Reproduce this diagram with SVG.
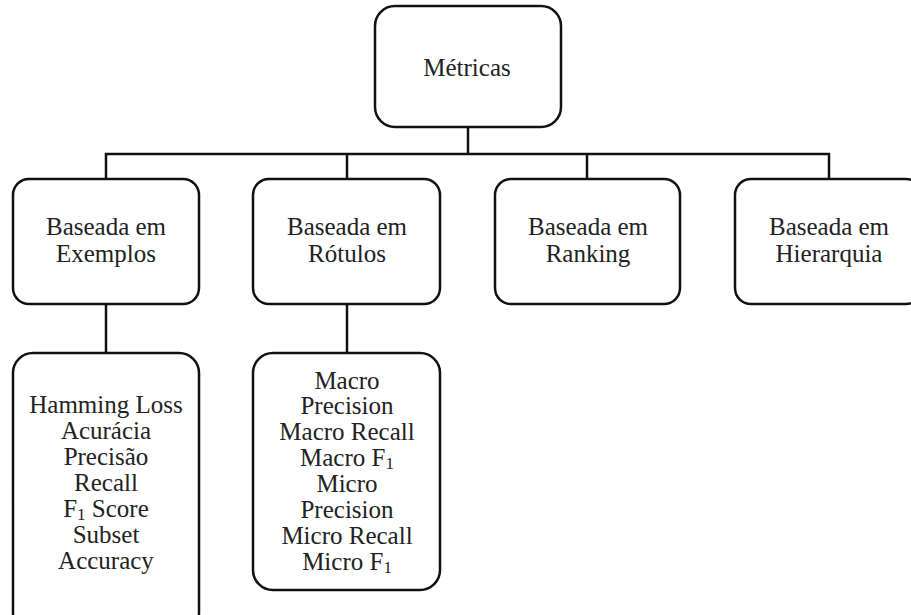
<svg xmlns="http://www.w3.org/2000/svg" width="911" height="615" viewBox="0 0 911 615">
  <rect width="911" height="615" fill="#ffffff"/>

  <!-- tree connectors -->
  <g id="connectors" fill="none" stroke="#111111" stroke-width="2.5">
    <path d="M468 127 V154"/>
    <path d="M106 179 V154 H829 V179"/>
    <path d="M347 154 V179"/>
    <path d="M587 154 V179"/>
    <path d="M106 304 V353"/>
    <path d="M347 304 V353"/>
  </g>

  <!-- node boxes share stroke; labels share a serif face -->
  <g id="nodes" font-family="Liberation Serif" font-size="25" fill="#222222" text-anchor="middle">
    <g id="metricas">
      <rect x="375" y="6" width="186" height="121" rx="20" fill="#ffffff" stroke="#111111" stroke-width="2.5"/>
      <text x="467" y="76">Métricas</text>
    </g>

    <g id="exemplos">
      <rect x="13" y="179" width="186" height="125" rx="16" fill="#ffffff" stroke="#111111" stroke-width="2.5"/>
      <text x="106" y="235">Baseada em</text>
      <text x="106" y="262">Exemplos</text>
    </g>

    <g id="rotulos">
      <rect x="253" y="179" width="187" height="125" rx="16" fill="#ffffff" stroke="#111111" stroke-width="2.5"/>
      <text x="347" y="235">Baseada em</text>
      <text x="347" y="262">Rótulos</text>
    </g>

    <g id="ranking">
      <rect x="495" y="179" width="185" height="125" rx="16" fill="#ffffff" stroke="#111111" stroke-width="2.5"/>
      <text x="588" y="235">Baseada em</text>
      <text x="588" y="262">Ranking</text>
    </g>

    <g id="hierarquia">
      <rect x="735" y="179" width="187" height="125" rx="16" fill="#ffffff" stroke="#111111" stroke-width="2.5"/>
      <text x="829" y="235">Baseada em</text>
      <text x="829" y="262">Hierarquia</text>
    </g>

    <g id="metricas-exemplos">
      <rect x="13" y="353" width="186" height="280" rx="20" fill="#ffffff" stroke="#111111" stroke-width="2.5"/>
      <text x="106" y="413">Hamming Loss</text>
      <text x="106" y="439">Acurácia</text>
      <text x="106" y="465">Precisão</text>
      <text x="106" y="491">Recall</text>
      <text x="106" y="517">F<tspan font-size="17" dy="3">1</tspan><tspan dy="-3"> Score</tspan></text>
      <text x="106" y="543">Subset</text>
      <text x="106" y="569">Accuracy</text>
    </g>

    <g id="metricas-rotulos">
      <rect x="253" y="353" width="187" height="237" rx="20" fill="#ffffff" stroke="#111111" stroke-width="2.5"/>
      <text x="347" y="389">Macro</text>
      <text x="347" y="414">Precision</text>
      <text x="347" y="440">Macro Recall</text>
      <text x="347" y="466">Macro F<tspan font-size="17" dy="3">1</tspan></text>
      <text x="347" y="492">Micro</text>
      <text x="347" y="518">Precision</text>
      <text x="347" y="544">Micro Recall</text>
      <text x="347" y="570">Micro F<tspan font-size="17" dy="3">1</tspan></text>
    </g>
  </g>
</svg>
